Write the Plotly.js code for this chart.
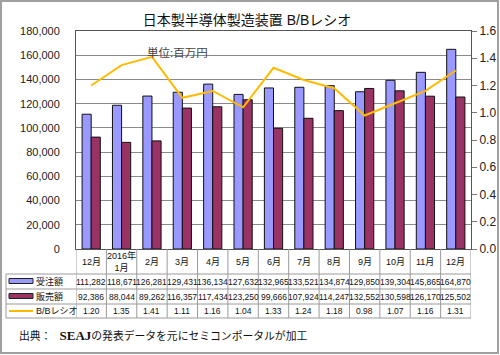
<!DOCTYPE html>
<html><head><meta charset="utf-8">
<script src="https://cdn.plot.ly/plotly-3.0.1.min.js"></script>
<style>html,body{margin:0;padding:0;background:#fff}</style>
</head><body><div id="chart" style="width:500px;height:355px"></div>
<script>
const categories = ['12月','2016年<br>1月','2月','3月','4月','5月','6月','7月','8月','9月','10月','11月','12月'];
const orders = [111282,118671,126281,129431,136134,127632,132965,133521,134874,129850,139304,145865,164870];
const sales = [92386,88044,89262,116357,117434,123250,99666,107924,114247,132552,130598,126170,125502];
const bbRatio = [1.20,1.35,1.41,1.11,1.16,1.04,1.33,1.24,1.18,0.98,1.07,1.16,1.31];
const seriesNames = ['受注額','販売額','B/Bレシオ'];
const titleText = '日本製半導体製造装置 B/Bレシオ';
const unitText = '単位:百万円';
const sourceLabel = '出典：';
const sourceOrg = 'SEAJ';
const sourceRest = 'の発表データを元にセミコンポータルが加工';

const L = 76, R = 471, T = 31, B = 249;
const px2x = p => (p - L) / (R - L);
const py2y = p => (B - p) / (B - T);
const FONT = 'Liberation Sans, Arial, Noto Sans CJK JP, sans-serif';
const BLUE = '#9999ff', PURPLE = '#993366', ORANGE = '#ffbb00';
const idx = categories.map((c, i) => i);
const fmt = v => v.toLocaleString('en-US');

const traces = [
  {type:'bar', x:idx, y:orders, name:seriesNames[0], marker:{color:BLUE, line:{color:'#111', width:1}}, hoverinfo:'skip'},
  {type:'bar', x:idx, y:sales, name:seriesNames[1], marker:{color:PURPLE, line:{color:'#111', width:1}}, hoverinfo:'skip'},
  {type:'scatter', mode:'lines', x:idx, y:bbRatio, yaxis:'y2', name:seriesNames[2], line:{color:ORANGE, width:2}, hoverinfo:'skip'}
];

const tableLine = {color:'#9a9a9a', width:1};
const shapes = [];
shapes.push({type:'rect', xref:'paper', yref:'paper', x0:px2x(1), x1:px2x(498), y0:py2y(353), y1:py2y(1), line:{color:'#a0a0a0', width:2}});
[274, 289, 304, 318].forEach(p => shapes.push({type:'line', xref:'paper', yref:'paper', x0:px2x(6), x1:px2x(471), y0:py2y(p), y1:py2y(p), line:tableLine}));
for (let i = 0; i <= categories.length; i++) {
  shapes.push({type:'line', xref:'x', yref:'paper', x0:i-0.5, x1:i-0.5, y0:0, y1:py2y(318), line:tableLine});
}
shapes.push({type:'line', xref:'paper', yref:'paper', x0:px2x(6), x1:px2x(6), y0:py2y(274), y1:py2y(318), line:tableLine});
shapes.push({type:'rect', xref:'paper', yref:'paper', x0:px2x(9), x1:px2x(33), y0:py2y(283.5), y1:py2y(278.5), fillcolor:BLUE, line:{color:'#222', width:1}});
shapes.push({type:'rect', xref:'paper', yref:'paper', x0:px2x(9), x1:px2x(33), y0:py2y(298.5), y1:py2y(293.5), fillcolor:PURPLE, line:{color:'#222', width:1}});
shapes.push({type:'line', xref:'paper', yref:'paper', x0:px2x(9), x1:px2x(33), y0:py2y(311), y1:py2y(311), line:{color:ORANGE, width:2}});

const annotations = [];
const tf = {family:FONT, size:8.5, color:'#111'};
categories.forEach((c, i) => annotations.push({xref:'x', yref:'paper', x:i, y:py2y(261.5), text:c, showarrow:false, yanchor:'middle', font:{family:FONT, size:9, color:'#111'}}));
const rows = [[orders, 281.5, fmt], [sales, 296.5, fmt], [bbRatio, 311, v => v.toFixed(2)]];
rows.forEach(([arr, p, f]) => arr.forEach((v, i) => annotations.push({xref:'x', yref:'paper', x:i, y:py2y(p), text:f(v), showarrow:false, yanchor:'middle', font:tf})));
[281.5, 296.5, 311].forEach((p, k) => annotations.push({xref:'paper', yref:'paper', x:px2x(34), y:py2y(p), xanchor:'left', yanchor:'middle', text:seriesNames[k], showarrow:false, font:{family:FONT, size:9, color:'#111'}}));
annotations.push({xref:'paper', yref:'paper', x:px2x(145), y:py2y(52), text:unitText, showarrow:false, yanchor:'middle', font:{family:FONT, size:11.5, color:'#444'}});
annotations.push({xref:'paper', yref:'paper', x:px2x(17), y:py2y(335), xanchor:'left', yanchor:'middle',
  text:sourceLabel + '&nbsp;&nbsp;&nbsp;<span style="font-size:13px;font-weight:bold">' + sourceOrg + '</span>' + sourceRest,
  showarrow:false, font:{family:'Liberation Serif, Noto Sans CJK JP, serif', size:10.8, color:'#111'}});

const layout = {
  width:500, height:355,
  margin:{l:L, r:500-R, t:T, b:355-B, pad:0},
  paper_bgcolor:'#fff', plot_bgcolor:'#fff',
  showlegend:false,
  barmode:'group', bargap:0.4, bargroupgap:0,
  title:{text:titleText, x:0.494, xanchor:'center', y:1-20/355, yanchor:'middle', font:{family:FONT, size:14, color:'#111'}},
  xaxis:{range:[-0.5, categories.length-0.5], showticklabels:false, showgrid:false, zeroline:false, showline:true, linecolor:'#555', linewidth:1, mirror:true, ticks:''},
  yaxis:{range:[0,180000], dtick:20000, tickformat:',d', showgrid:true, gridcolor:'#8a8a8a', gridwidth:1, zeroline:false, showline:true, linecolor:'#555', linewidth:1, ticks:'', ticklabelstandoff:13, tickfont:{family:FONT, size:11, color:'#222'}},
  yaxis2:{range:[0,1.6], dtick:0.2, tickformat:'.1f', overlaying:'y', side:'right', showgrid:false, zeroline:false, showline:true, linecolor:'#555', linewidth:1, ticks:'outside', ticklen:5, tickcolor:'#777', tickfont:{family:FONT, size:12, color:'#222'}},
  shapes, annotations
};
Plotly.newPlot('chart', traces, layout, {displayModeBar:false, staticPlot:true});
</script></body></html>
